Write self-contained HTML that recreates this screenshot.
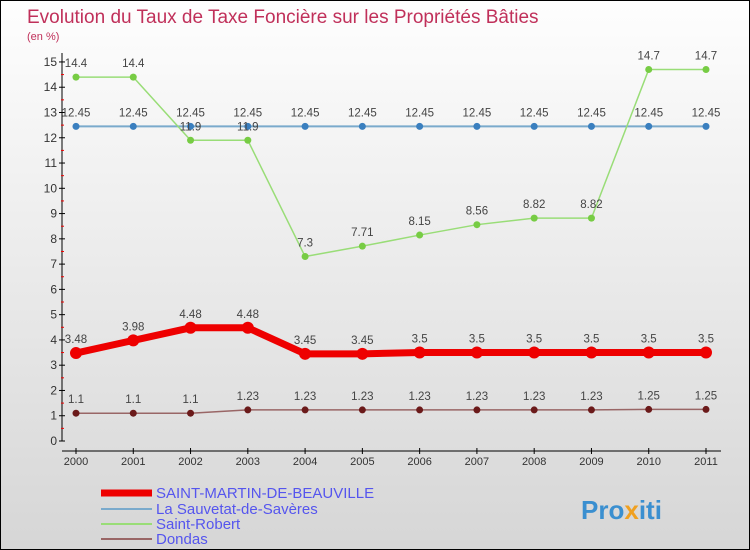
<!DOCTYPE html>
<html><head><meta charset="utf-8"><style>
body{margin:0}
#c{position:relative;width:748px;height:548px;border:1px solid #000;background:linear-gradient(#fefefe,#d6d6d6);font-family:"Liberation Sans",sans-serif;overflow:hidden}
svg text{font-family:"Liberation Sans",sans-serif}
</style></head><body>
<div id="c">
<svg id="s" width="748" height="548">
<text x="26" y="22" font-size="19" fill="#c0305a" font-weight="300">Evolution du Taux de Taxe Foncière sur les Propriétés Bâties</text>
<text x="26" y="39" font-size="11" fill="#c0305a">(en %)</text>
<g id="ax"></g><g id="series"></g>
<g>
<line x1="100" y1="492" x2="151" y2="492" stroke="#e00" stroke-width="7"/>
<text x="155" y="497" font-size="15" fill="#5555ee">SAINT-MARTIN-DE-BEAUVILLE</text>
<line x1="100" y1="508" x2="151" y2="508" stroke="#7aaacc" stroke-width="2"/>
<text x="155" y="513" font-size="15" fill="#5555ee">La Sauvetat-de-Savères</text>
<line x1="100" y1="523" x2="151" y2="523" stroke="#99dd77" stroke-width="2"/>
<text x="155" y="528" font-size="15" fill="#5555ee">Saint-Robert</text>
<line x1="100" y1="538" x2="151" y2="538" stroke="#996666" stroke-width="2"/>
<text x="155" y="543" font-size="15" fill="#5555ee">Dondas</text>
</g>
<text x="580" y="518" font-size="26" font-weight="bold" fill="#3a8fd0">Pro<tspan fill="#f0a020">x</tspan>iti</text>
</svg></div>
<script>
const years=[2000,2001,2002,2003,2004,2005,2006,2007,2008,2009,2010,2011];
const yTicks=[0,1,2,3,4,5,6,7,8,9,10,11,12,13,14,15];
const sMartin=[3.48,3.98,4.48,4.48,3.45,3.45,3.5,3.5,3.5,3.5,3.5,3.5];
const sSauvetat=[12.45,12.45,12.45,12.45,12.45,12.45,12.45,12.45,12.45,12.45,12.45,12.45];
const sRobert=[14.4,14.4,11.9,11.9,7.3,7.71,8.15,8.56,8.82,8.82,14.7,14.7];
const sDondas=[1.1,1.1,1.1,1.23,1.23,1.23,1.23,1.23,1.23,1.23,1.25,1.25];
const NS="http://www.w3.org/2000/svg";
const X=i=>75+i*(630/11), Y=v=>440-v*25.27;
function mk(p,t,a){const e=document.createElementNS(NS,t);for(const k in a)e.setAttribute(k,a[k]);p.appendChild(e);return e;}
const ax=document.getElementById('ax');
let l=mk(ax,'line',{x1:61,y1:52,x2:61,y2:440,stroke:'#000'});


l=mk(ax,'line',{x1:61,y1:450,x2:720,y2:450,stroke:'#000'});


yTicks.forEach(v=>{
 mk(ax,'line',{x1:58,y1:Y(v),x2:64,y2:Y(v),stroke:'#000'});
 if(v<15) mk(ax,'line',{x1:60,y1:Y(v+0.5),x2:63,y2:Y(v+0.5),stroke:'#e00'});
 const t=mk(ax,'text',{x:56,y:Y(v)+4,'font-size':12,fill:'#333','text-anchor':'end'});t.textContent=v;
 
 
});
years.forEach((y,i)=>{
 mk(ax,'line',{x1:X(i),y1:447,x2:X(i),y2:453,stroke:'#000'});
 const t=mk(ax,'text',{x:X(i),y:464,'font-size':11,fill:'#333','text-anchor':'middle'});t.textContent=y;
 
 
});
const sg=document.getElementById('series');
function draw(d,col,dot,w,r,name){
 const g=mk(sg,'g',{});
 
 
 mk(g,'polyline',{points:d.map((v,i)=>X(i)+','+Y(v)).join(' '),fill:'none',stroke:col,'stroke-width':w});
 d.forEach((v,i)=>{
  const c=mk(g,'circle',{cx:X(i),cy:Y(v),r:r,fill:dot});
  
  
  const t=mk(g,'text',{x:X(i),y:Y(v)-10,'font-size':11.5,fill:'#444','text-anchor':'middle'});t.textContent=v;
  
  
 });
}
draw(sSauvetat,'#7aaacc','#3a7fbf',2,3.5,'series-sauvetat');
draw(sRobert,'#99dd77','#77cc44',1.5,3.5,'series-saint-robert');
draw(sDondas,'#996666','#6b1a1a',1.5,3.5,'series-dondas');
draw(sMartin,'#e00','#e00',7,6,'series-saint-martin');
</script>
</body></html>
